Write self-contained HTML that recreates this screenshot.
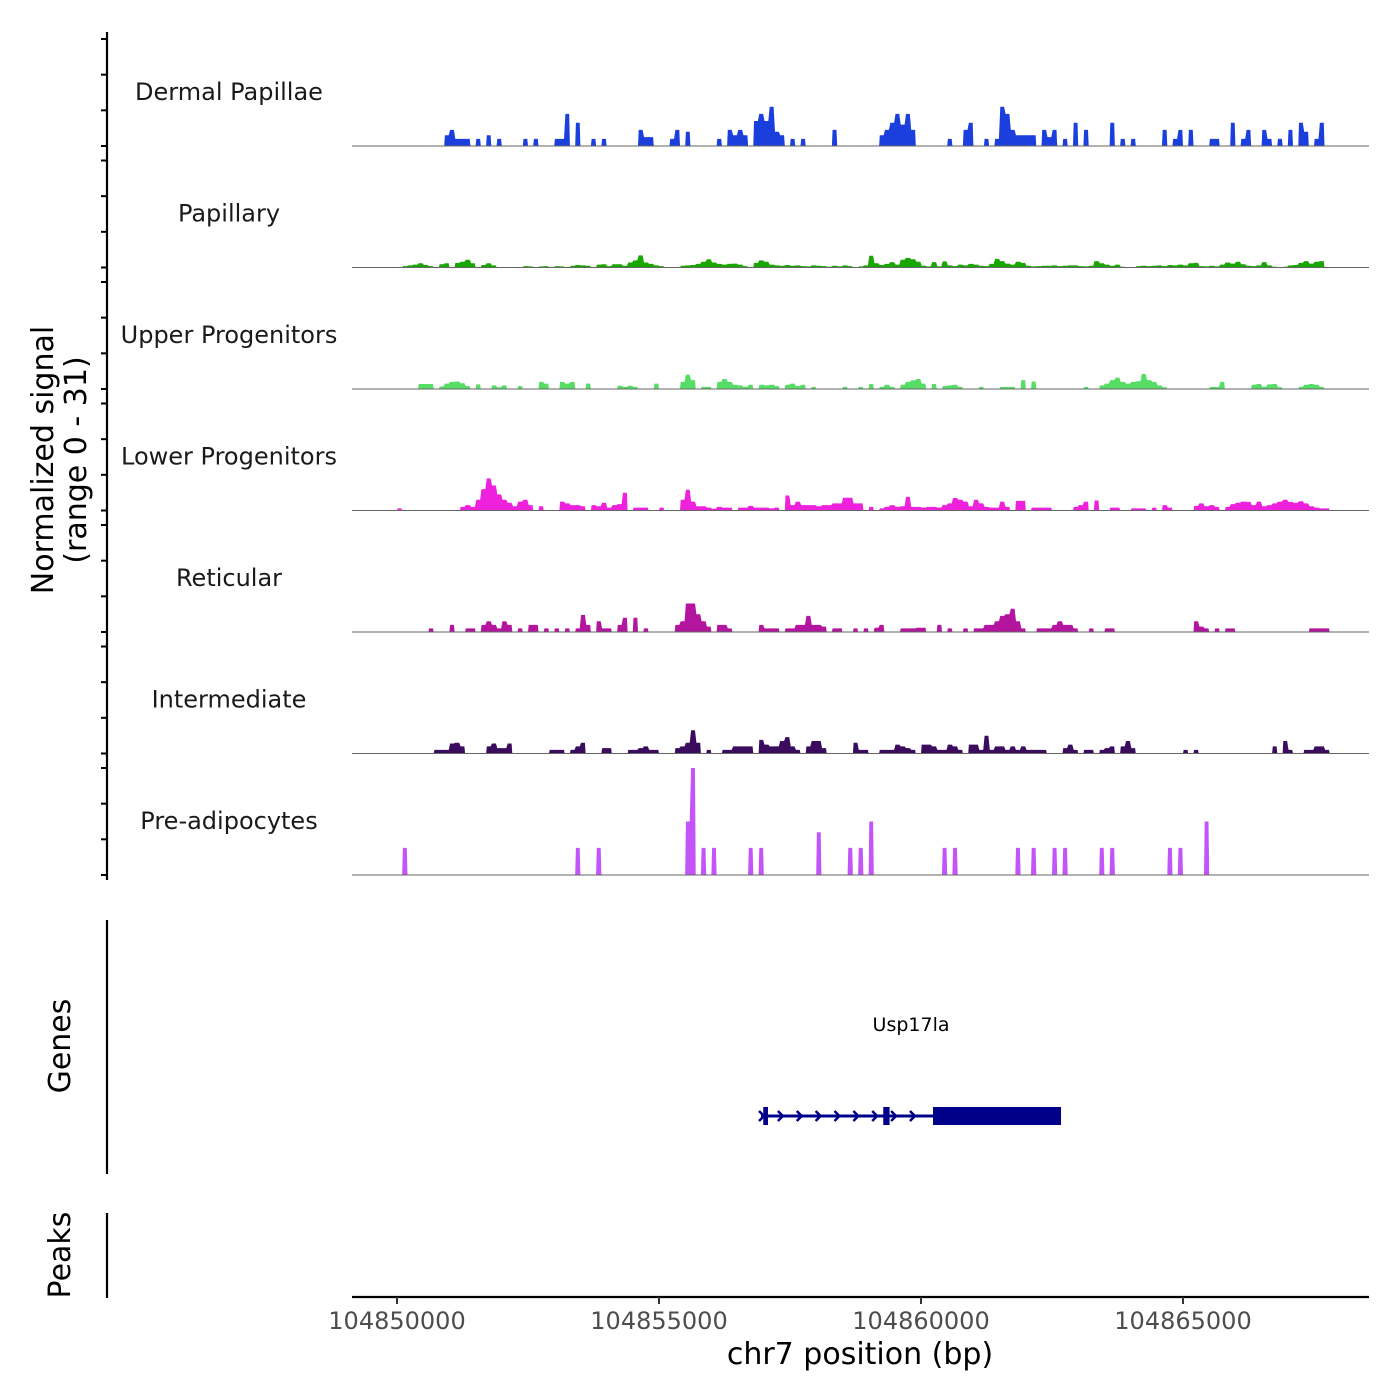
<!DOCTYPE html>
<html><head><meta charset="utf-8"><style>
html,body{margin:0;padding:0;background:#fff;}
svg{display:block;font-family:"DejaVu Sans","Liberation Sans",sans-serif;}
</style></head><body>
<svg id="chart" width="1400" height="1400" viewBox="0 0 1400 1400" xmlns="http://www.w3.org/2000/svg">
<rect width="1400" height="1400" fill="#fff"/>
<g id="tracks"></g>
<g id="yaxis"></g>
<text transform="translate(53,460) rotate(-90)" text-anchor="middle" font-size="30" fill="#000">Normalized signal</text>
<text transform="translate(86,460) rotate(-90)" text-anchor="middle" font-size="30" fill="#000">(range 0 - 31)</text>
<line x1="107" y1="920" x2="107" y2="1174" stroke="#000" stroke-width="2.2"/>
<text transform="translate(70,1046) rotate(-90)" text-anchor="middle" font-size="30" fill="#000">Genes</text>
<g id="genes"></g>
<line x1="107" y1="1213" x2="107" y2="1298" stroke="#000" stroke-width="2.2"/>
<text transform="translate(70,1255) rotate(-90)" text-anchor="middle" font-size="30" fill="#000">Peaks</text>
<line x1="352" y1="1297" x2="1369" y2="1297" stroke="#000" stroke-width="2.2"/>
<g id="xaxis"></g>
<text x="860" y="1364" text-anchor="middle" font-size="30" fill="#000">chr7 position (bp)</text>
</svg>
<script>
const NS="http://www.w3.org/2000/svg";
const binStart=104849000;
const binSize=100;
const trackNames=["Dermal Papillae","Papillary","Upper Progenitors","Lower Progenitors","Reticular","Intermediate","Pre-adipocytes"];
const trackColors=["#1a3fdc","#1aa600","#55dd66","#ee22dd","#b3159f","#3b0b5e","#c254f8"];
const dermalVals=[0,0,0,0,0,0,0,0,0,0, 0,0,0,0,0,0,0,0,0,3, 4.5,2,2,2,0,2,0,3,0,2, 0,0,0,0,2,0,2,0,0,0, 2,2,9,0,6.5,0,0,2,0,2, 0,0,0,0,0,0,4.5,2.5,2.5,0, 0,0,2,4.5,0,4,0,0,0,0, 0,2,0,4.5,3,4.5,3,0,7,9, 7,11,4,3,0,2,0,2,0,0, 0,0,0,4.5,0,0,0,0,0,0, 0,0,3,4.5,6.5,9,6,9,4.5,0, 0,0,0,0,0,2,0,0,4.5,6.5, 0,0,2,0,2,11,9,4.5,3,3, 3,3,0,4.5,2.5,4.5,0,2,0,6.5, 0,4.5,0,0,0,0,6.5,0,2,0, 2,0,0,0,0,0,4.5,0,2,4.5, 0,4.5,0,0,0,2,2,0,0,6.5, 0,2,4.5,0,0,4.5,2,0,2,0, 4.5,0,6.5,4,0,2,6.5,0,0,0];
const papillaryVals=[0,0,0,0,0,0,0,0,0,0, 0,0.4,0.6,0.8,1.2,0.7,0.4,0,0.9,1.2, 0,1.3,1.6,2.2,1.2,0,0.7,1.2,0.6,0, 0,0,0,0,0.4,0.3,0,0.3,0.4,0, 0.4,0.3,0,0.5,0.7,0.6,0.5,0,0.8,0.9, 0.4,0.9,0.9,0.5,1.4,2,3.4,1.4,1,0.6, 0.4,0,0,0,0.5,0.6,0.7,1,1.6,2.3, 1.4,1,0.8,1,1.1,0.8,0.4,0,1.3,2, 1.6,0.8,0.6,0.5,0.7,0.5,0.6,0.4,0.3,0.6, 0.5,0.4,0.2,0.5,0.3,0.6,0.4,0,0.3,0.6, 3.3,1.2,0.7,1,1.5,0.8,2.2,2.7,2.3,1.6, 0.5,0.3,1.5,0.3,1.7,0.6,0.4,0.8,0.6,1, 0.8,0.5,0.4,1,2.4,1.8,1.1,0.8,1.6,1.3, 0.5,0.3,0.4,0.5,0.5,0.6,0.4,0.5,0.6,0.6, 0.4,0.3,0.5,1.8,1.2,0.8,0.5,0.8,0.2,0, 0,0.4,0.5,0.4,0.5,0.6,0.4,0.7,0.6,0.8, 0.6,1.2,1.3,0.4,0.3,0.5,0.3,0.8,1.4,1.1, 1.6,0.9,0.5,0.4,0.6,1.5,0.6,0.2,0,0.2, 0.6,0.7,1.3,1.8,1.1,1.6,1.8,0,0,0];
const upperVals=[0,0,0,0,0,0,0,0,0,0, 0,0,0,0,1.4,1.4,1.4,0,0.7,1.5, 2,2.1,1.6,0.8,0,1.3,0,0,1,0.5, 1,0,0,0.8,0,0,0,2,1.5,0, 0,2,1.5,2,0,0,1.5,0,0,0, 0,0,0.9,0.6,0.9,0.6,0,0,0,1.5, 0,0,0,0,2,4,2.5,0,0.6,0.6, 0,2,2.8,2,1.2,1,0.6,1.2,0,1.2, 1,1.2,0.8,0,1.2,1.5,0.8,1.2,0,0.6, 0,0,0,0,0,0.6,0,0,0.6,0, 1.4,0,0.6,1.2,0.6,0,1.2,2,2.4,2.8, 1.5,0,1.4,0,0.8,1,1.2,0.6,0,0, 0,0.6,0,0,0,0.6,0.6,0.6,0,2.5, 0,2.1,0,0,0,0,0,0,0,0, 0,0.6,0,0,1,1.5,2.5,3.2,2,1.5, 2,2.2,4.2,2.5,2,1,0.5,0,0,0, 0,0,0,0,0,0.6,0.6,2,0,0, 0,0,0,1.2,1.4,0.6,1.3,1.4,0.5,0, 0,0,0.6,1.2,1.4,1.2,0.6,0,0,0];
const lowerVals=[0,0,0,0,0,0,0,0,0,0, 0.6,0,0,0,0,0,0,0,0,0, 0,0,1,1.5,1,3,6,9,7,4.5, 3,2.2,1.2,2.5,3,1.5,0,1.2,0,0, 0,2.5,2,1.5,1.5,1.2,0,1.5,1.2,2.2, 0.8,1.5,1.8,5,0,0.8,0.8,0.8,0,0, 0.8,0,0,0,3,5.8,2.5,1.2,1.2,0.8, 0.5,1,0.8,0.8,0,0.8,0.8,1.3,0.8,0.8, 0.8,0.6,0.8,0,4.2,1.5,2.5,1.5,1.5,1.5, 1.2,1.5,1.5,2,2,3.6,3.6,2,2,0, 1,0,0.6,1,1.5,1,1.2,3.8,1,1, 0.8,1,1,0.8,1.5,2,3.5,3,2.5,1.2, 3,2,1,0.8,0.8,2.5,1,0,2.7,2.7, 0,0.8,0.8,0.8,0.8,0,0,0,0,1, 1.5,2.5,0,2.8,0,0,0.8,0.8,0,0, 0.6,0.6,0.6,0,0.8,0,1.5,0.8,0,0, 0,0,1.3,2,1.2,1.5,1,0,1,1.8, 2.2,2.5,2.4,1.5,2.5,1.2,1.5,2,2.5,3, 2.4,2.2,2.6,2,1.2,0.8,0.6,0.6,0,0];
const reticularVals=[0,0,0,0,0,0,0,0,0,0, 0,0,0,0,0,0,1,0,0,0, 2,0,0,1,1,0,2,3,2,1, 3,2,0,1,0,2,2,0,1,0, 1,0,1,0,1,4.8,2,0,3,1, 1,0,2,4,0,4,0,1,0,0, 0,0,0,2,3,8,8,5,3,1.5, 0,2,2,1,0,0,0,0,0,2, 1,1,1,0,1,1,2,2,4.5,2, 2,1.5,0,1,1,0,0,1,0,1, 0,1.2,2,0,0,0,1,1,1,1.2, 1.2,0,0,2,0,1,0,0,1,0, 1,1,2,2,3,4.5,5,6.5,3,1, 0,0,1,1,1,2,3,2,2,1, 0,0,1,0,0,1,1,0,0,0, 0,0,0,0,0,0,0,0,0,0, 0,0,3,1.5,1,0,1,0,1,1, 0,0,0,0,0,0,0,0,0,0, 0,0,0,0,1,1,1,1,0,0];
const intermediateVals=[0,0,0,0,0,0,0,0,0,0, 0,0,0,0,0,0,0,1,1,1, 2.8,3,2,0,0,0,0,2,2.8,1.5, 1.5,2.8,0,0,0,0,0,0,0,1, 1,1,0,1,2,3,0,0,0,1.5, 1.5,0,0,0,1,1,1.5,2,1,1, 0,0,0,1.5,2,3,6.5,3,0,1, 0,0,1,1,2,2,2,2,0,3.8, 2.5,2,2,3.5,4.6,2,1,0,2,3.5, 3.5,1.5,0,0,0,0,0,3,1,1, 0,0,1,1,1,2.5,2,1.5,1,0, 2.5,2.5,2,1,1,2.5,2,1,0,2.5, 2.5,1,5,1,2,2,1,2,1,2, 1,1,1,1,0,0,0,1.5,2.5,1, 0,1,1,0,1,1.5,2,0,2,3.5, 1.5,0,0,0,0,0,0,0,0,0, 1,0,1,0,0,0,0,0,0,0, 0,0,0,0,0,0,0,2,0,3.5, 1,0,0,1,1,2,2,1,0,0];
const preadipoVals=[0,0,0,0,0,0,0,0,0,0, 0,7.6,0,0,0,0,0,0,0,0, 0,0,0,0,0,0,0,0,0,0, 0,0,0,0,0,0,0,0,0,0, 0,0,0,0,7.6,0,0,0,7.6,0, 0,0,0,0,0,0,0,0,0,0, 0,0,0,0,0,15,30,0,7.6,0, 7.6,0,0,0,0,0,0,7.6,0,7.6, 0,0,0,0,0,0,0,0,0,0, 12,0,0,0,0,0,7.6,0,7.6,0, 15,0,0,0,0,0,0,0,0,0, 0,0,0,0,7.6,0,7.6,0,0,0, 0,0,0,0,0,0,0,0,7.6,0, 0,7.6,0,0,0,7.6,0,7.6,0,0, 0,0,0,0,7.6,0,7.6,0,0,0, 0,0,0,0,0,0,0,7.6,0,7.6, 0,0,0,0,15,0,0,0,0,0, 0,0,0,0,0,0,0,0,0,0, 0,0,0,0,0,0,0,0,0,0];
const trackVals=[dermalVals,papillaryVals,upperVals,lowerVals,reticularVals,intermediateVals,preadipoVals];
const trackKeys=["dermal-papillae","papillary","upper-progenitors","lower-progenitors","reticular","intermediate","pre-adipocytes"];
const xTicks=[104850000,104855000,104860000,104865000];
const yTickVals=[0,10,20,30];
const geneName="Usp17la";
const geneStart=104856947;
const geneEnd=104862672;
const exonStarts=[104856990,104859280,104860229];
const exonEnds=[104857080,104859400,104862672];

function xs(bp){return 397+(bp-104850000)*0.0524;}
const trackBase0=146, trackStep=121.5, unitPx=3.567;
function ys(k,v){return trackBase0+k*trackStep-v*unitPx;}
function el(tag,attrs,parent){const e=document.createElementNS(NS,tag);for(const a in attrs)e.setAttribute(a,attrs[a]);parent.appendChild(e);return e;}

const gT=document.getElementById('tracks');
trackVals.forEach((vals,k)=>{
  const base=ys(k,0);
  const g=el('g',{},gT);
  
  
  const lab=el('text',{x:229,y:base-46,'text-anchor':'middle','font-size':24,fill:'#1a1a1a'},g);
  lab.textContent=trackNames[k];
  
  
  let d='';let i=0;
  while(i<vals.length){
    if(vals[i]>0){
      let s=i;let pts=[];
      while(i<vals.length&&vals[i]>0){
        const x0=xs(binStart+i*binSize),x1=xs(binStart+(i+1)*binSize);
        pts.push([x0+0.7,ys(k,vals[i])],[x1-0.7,ys(k,vals[i])]);i++;
      }
      d+='M'+xs(binStart+s*binSize).toFixed(1)+','+base+' ';
      pts.forEach(p=>{d+='L'+p[0].toFixed(1)+','+p[1].toFixed(1)+' ';});
      d+='L'+xs(binStart+i*binSize).toFixed(1)+','+base+' Z ';
    }else i++;
  }
  const p=el('path',{d:d,fill:trackColors[k]},g);
  
  
  const bl=el('line',{x1:352,x2:1369,y1:base,y2:base,stroke:'#666','stroke-width':1},g);
  
  
});

const gY=document.getElementById('yaxis');
const ax=el('line',{x1:107,x2:107,y1:32,y2:880,stroke:'#000','stroke-width':2.2},gY);


for(let k=0;k<7;k++){yTickVals.forEach(v=>{
  const t=el('line',{x1:101,x2:107,y1:ys(k,v),y2:ys(k,v),stroke:'#000','stroke-width':2},gY);
  
  
});}

const gX=document.getElementById('xaxis');
xTicks.forEach(v=>{
  const t=el('line',{x1:xs(v),x2:xs(v),y1:1297,y2:1304,stroke:'#333','stroke-width':2},gX);
  
  
  const l=el('text',{x:xs(v),y:1329,'text-anchor':'middle','font-size':24,fill:'#4d4d4d'},gX);
  l.textContent=String(v);
  
  
});

const gG=document.getElementById('genes');
const col='#00008b', gy=1116;
const gl=el('text',{x:xs((geneStart+geneEnd)/2),y:1031,'text-anchor':'middle','font-size':19,fill:'#000'},gG);
gl.textContent=geneName;


const ln=el('line',{x1:xs(geneStart),x2:xs(geneEnd),y1:gy,y2:gy,stroke:col,'stroke-width':3},gG);


exonStarts.forEach((s,j)=>{
  const r=el('rect',{x:xs(s),y:gy-9,width:Math.max(4,xs(exonEnds[j])-xs(s)),height:18,fill:col},gG);
  
  
});
let arrowD='';
for(let bp=geneStart;bp<exonStarts[2]-150;bp+=360){
  const x=xs(bp);arrowD+='M'+(x-2)+','+(gy-5)+' L'+(x+3)+','+gy+' L'+(x-2)+','+(gy+5)+' ';
}
const ar=el('path',{d:arrowD,stroke:col,'stroke-width':2.5,fill:'none'},gG);


</script>
</body></html>
